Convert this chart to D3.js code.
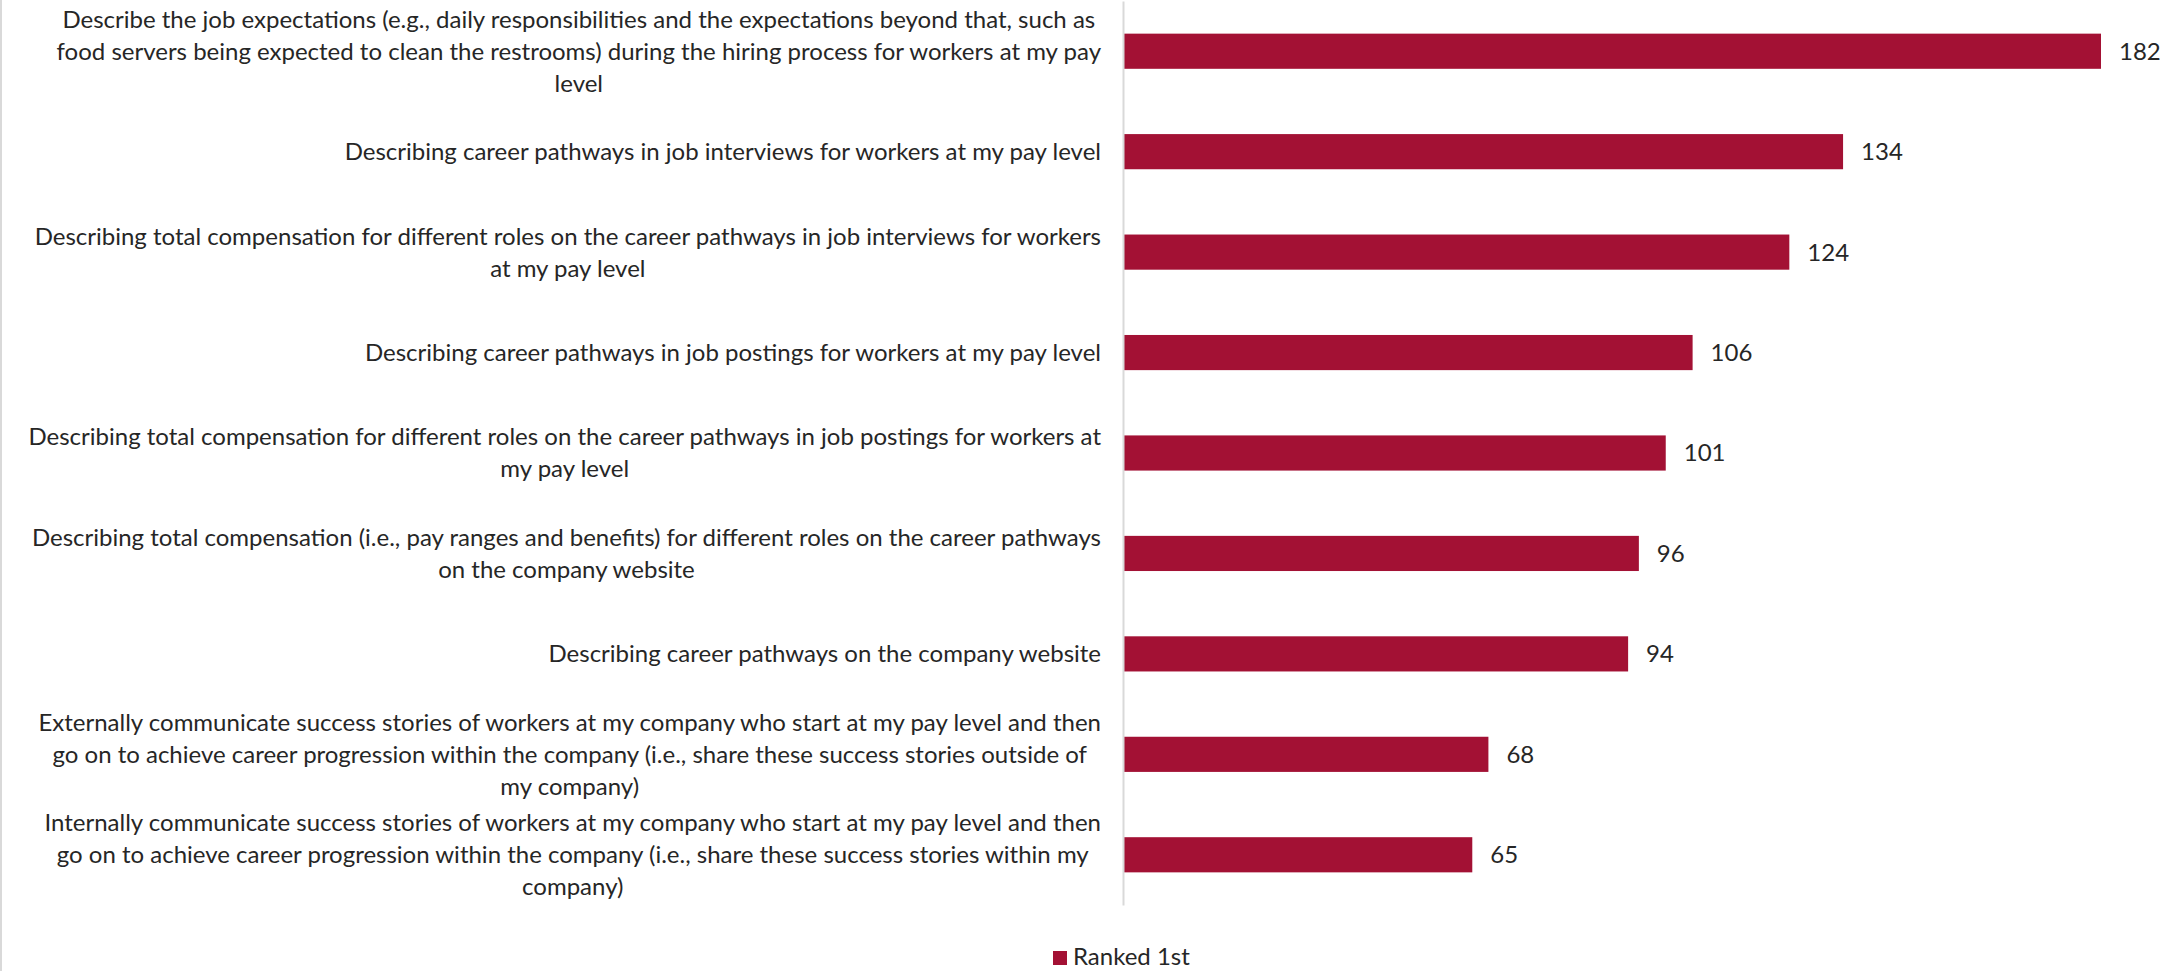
<!DOCTYPE html>
<html>
<head>
<meta charset="utf-8">
<script src="https://cdn.jsdelivr.net/npm/d3@7"></script>
<style>
  html, body { margin: 0; padding: 0; background: #fff; }
  svg { display: block; }
</style>
</head>
<body>
<svg id="chart" width="2177" height="971"></svg>
<script>
// Item labels, one array entry per wrapped line
const categories = [
  ["Describe the job expectations (e.g., daily responsibilities and the expectations beyond that, such as",
   "food servers being expected to clean the restrooms) during the hiring process for workers at my pay",
   "level"],
  ["Describing career pathways in job interviews for workers at my pay level"],
  ["Describing total compensation for different roles on the career pathways in job interviews for workers",
   "at my pay level"],
  ["Describing career pathways in job postings for workers at my pay level"],
  ["Describing total compensation for different roles on the career pathways in job postings for workers at",
   "my pay level"],
  ["Describing total compensation (i.e., pay ranges and benefits) for different roles on the career pathways",
   "on the company website"],
  ["Describing career pathways on the company website"],
  ["Externally communicate success stories of workers at my company who start at my pay level and then",
   "go on to achieve career progression within the company (i.e., share these success stories outside of",
   "my company)"],
  ["Internally communicate success stories of workers at my company who start at my pay level and then",
   "go on to achieve career progression within the company (i.e., share these success stories within my",
   "company)"]
];
const rankedFirst = [182, 134, 124, 106, 101, 96, 94, 68, 65];
const seriesName = "Ranked 1st";

const W = 2177, H = 971;
const FONT = "Lato, 'Open Sans', sans-serif";
const FS = 24;
const BAR = "#A31134";
const TEXT = "#262626";

const svg = d3.select("#chart");
const ids = categories.map((_, i) => i);

const plot = { left: 1123, right: 2101, top: 1, bottom: 905 };

const y = d3.scaleBand()
  .domain(ids)
  .range([plot.top, plot.bottom])
  .paddingInner(0.65)
  .paddingOuter(0.325);

const x = d3.scaleLinear()
  .domain([0, d3.max(rankedFirst)])
  .range([plot.left, plot.right]);

// chart frame edge on the left
svg.append("line")
  .attr("x1", 1).attr("x2", 1)
  .attr("y1", 0).attr("y2", H)
  .attr("stroke", "#d9d9d9").attr("stroke-width", 2);

// bars
svg.append("g").selectAll("rect")
  .data(rankedFirst)
  .join("rect")
  .attr("x", x(0))
  .attr("y", (d, i) => y(i))
  .attr("width", d => x(d) - x(0))
  .attr("height", y.bandwidth())
  .attr("fill", BAR);

// category axis line
const axis = svg.append("g")
  .attr("transform", `translate(${x(0)},0)`)
  .call(d3.axisLeft(y).tickSize(0).tickFormat(""));
axis.select(".domain").attr("stroke", "#d9d9d9").attr("stroke-width", 2);

// value labels
svg.append("g").selectAll("text")
  .data(rankedFirst)
  .join("text")
  .attr("x", d => x(d) + 18)
  .attr("y", (d, i) => y(i) + y.bandwidth() / 2)
  .attr("dy", "0.35em")
  .attr("font-family", FONT)
  .attr("font-size", FS)
  .attr("fill", TEXT)
  .text(d => d);

// category labels: block right-aligned to the axis, lines centred within the block
const lineH = 32;
const labelRight = x(0) - 22;
const labels = svg.append("g");
categories.forEach((lines, i) => {
  const cy = y(i) + y.bandwidth() / 2;
  const g = labels.append("g");
  const texts = lines.map((ln, k) => g.append("text")
    .attr("y", cy + (k - (lines.length - 1) / 2) * lineH)
    .attr("dy", "0.35em")
    .attr("text-anchor", "middle")
    .attr("font-family", FONT)
    .attr("font-size", FS)
    .attr("fill", TEXT)
    .text(ln));
  const blockW = d3.max(texts, t => t.node().getComputedTextLength());
  texts.forEach(t => t.attr("x", labelRight - blockW / 2));
});

// legend
const lg = svg.append("g").attr("transform", "translate(1053,951)");
lg.append("rect").attr("width", 14).attr("height", 14).attr("fill", BAR);
lg.append("text")
  .attr("x", 20).attr("y", 14)
  .attr("font-family", FONT)
  .attr("font-size", FS)
  .attr("fill", TEXT)
  .text(seriesName);
</script>
</body>
</html>
